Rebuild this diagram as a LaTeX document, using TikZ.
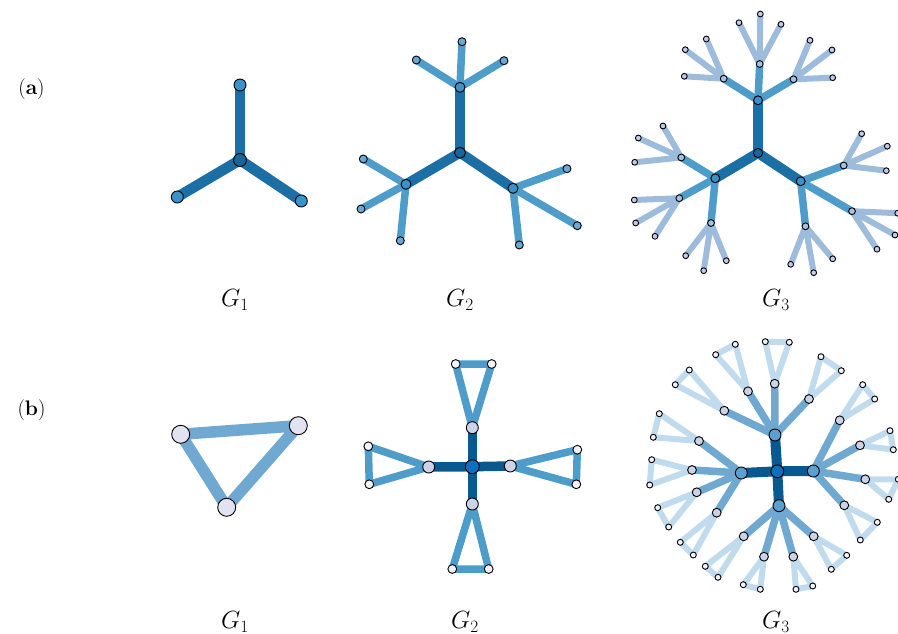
\documentclass[tikz,border=0pt]{standalone}
\pgfdeclarelayer{e1}
\pgfdeclarelayer{e2}
\pgfdeclarelayer{e3}
\pgfsetlayers{e1,e2,e3,main}

% palette
\definecolor{blueA}{HTML}{1B6FA5}
\definecolor{blueAn}{HTML}{17659B}
\definecolor{blueB}{HTML}{4E9CCA}
\definecolor{blueBn}{HTML}{3A93C8}
\definecolor{blueC}{HTML}{9DBCDC}
\definecolor{nodeL2}{HTML}{A6C2E2}
\definecolor{nodeLf}{HTML}{C2CCE6}
\definecolor{nodeG2lf}{HTML}{6AA9D5}
\definecolor{blueD}{HTML}{08598F}
\definecolor{blueDn}{HTML}{0D6FBD}
\definecolor{triB}{HTML}{6FA9D1}
\definecolor{triC}{HTML}{C0DBEE}
\definecolor{lavA}{HTML}{E1E3F0}
\definecolor{lavB}{HTML}{CDD3E7}
\definecolor{paleW}{HTML}{F2F2F8}
\definecolor{midB}{HTML}{5BA1D0}

\tikzset{
  vtx/.style={circle,draw=black,line width=0.9pt,inner sep=0pt},
  rad/.style={minimum size=2*#1 pt},
  edg/.style={line cap=round,line join=round},
  lab/.style={font=\fontsize{23}{27}\selectfont,anchor=base,inner sep=0pt},
  tag/.style={font=\fontsize{21}{25}\selectfont,inner sep=0pt},
}

\begin{document}
\begin{tikzpicture}[x=1pt,y=-1pt]
\useasboundingbox (0,0) rectangle (898,634);

% ---------------- row (a) ----------------
\node[tag] (tagA) at (31.5,89) {(\textbf{a})};

% G1: a three-pointed star
\node[vtx,rad=6.5,fill=blueAn] (a1c) at (240,160) {};
\foreach \i/\x/\y in {1/240/85, 2/177.3/197, 3/301.3/201}{
  \node[vtx,rad=6,fill=blueBn] (a1n\i) at (\x,\y) {};
  \begin{pgfonlayer}{e3}
    \draw[edg,line width=10.5pt,blueA] (a1c.center) -- (a1n\i.center);
  \end{pgfonlayer}
}
\node[lab] (ga1) at (235,306.5) {$G_1$};

% G2
\node[vtx,rad=5.5,fill=blueAn] (a2c) at (460,152.7) {};
\foreach \i/\x/\y in {1/460/87.3, 2/406/184.3, 3/513/188.3}{
  \node[vtx,rad=5,fill=blueBn] (a2m\i) at (\x,\y) {};
  \begin{pgfonlayer}{e3}
    \draw[edg,line width=10pt,blueA] (a2c.center) -- (a2m\i.center);
  \end{pgfonlayer}
}
\foreach \i/\p/\x/\y in {11/1/462/41.7, 12/1/416.3/60, 13/1/504/60.7,
                         21/2/363.3/159, 22/2/361/209, 23/2/400.3/240.7,
                         31/3/567/168.7, 32/3/577.3/225.7, 33/3/519.3/245}{
  \node[vtx,rad=4,fill=nodeG2lf] (a2l\i) at (\x,\y) {};
  \begin{pgfonlayer}{e2}
    \draw[edg,line width=7.5pt,blueB] (a2m\p.center) -- (a2l\i.center);
  \end{pgfonlayer}
}
\node[lab] (ga2) at (460,306.5) {$G_2$};

% G3
\node[vtx,rad=4.6,fill=blueAn] (a3c) at (758,153) {};
\foreach \i/\x/\y in {1/758/100.3, 2/715.3/178.3, 3/800.7/181.3}{
  \node[vtx,rad=4.4,fill=blueBn] (a3m\i) at (\x,\y) {};
  \begin{pgfonlayer}{e3}
    \draw[edg,line width=10pt,blueA] (a3c.center) -- (a3m\i.center);
  \end{pgfonlayer}
}
\foreach \i/\p/\kx/\ky/\ax/\ay/\bx/\by/\cx/\cy in {
  11/1/759.7/64/760.3/14/739/22.7/781/24.3,
  12/1/723.7/78.7/706.3/39/685.3/49.7/684.3/76.3,
  13/1/793.5/79.3/810/40.3/832/50/832.7/77.7,
  21/2/681.3/157.5/663/126/638.3/138/634.7/162.3,
  22/2/679.3/198.2/634.3/200/635.7/223/655/236.3,
  23/2/711/223/685.7/255.7/703.7/270.7/726.3/260.7,
  31/3/843.7/165.5/861.7/133.7/887.3/146.2/886.3/170.7,
  32/3/852/211.2/897.7/213.2/895/235/877/249.2,
  33/3/805.5/226.3/790.7/264.3/813.7/272.7/832.7/258.8}{
  \node[vtx,rad=3.4,fill=nodeL2] (a3k\i) at (\kx,\ky) {};
  \node[vtx,rad=2.9,fill=nodeLf] (a3k\i-a) at (\ax,\ay) {};
  \node[vtx,rad=2.9,fill=nodeLf] (a3k\i-b) at (\bx,\by) {};
  \node[vtx,rad=2.9,fill=nodeLf] (a3k\i-c) at (\cx,\cy) {};
  \begin{pgfonlayer}{e1}
    \draw[edg,line width=6pt,blueC] (a3k\i.center) -- (a3k\i-a.center)
                                    (a3k\i.center) -- (a3k\i-b.center)
                                    (a3k\i.center) -- (a3k\i-c.center);
  \end{pgfonlayer}
  \begin{pgfonlayer}{e2}
    \draw[edg,line width=7.5pt,blueB] (a3m\p.center) -- (a3k\i.center);
  \end{pgfonlayer}
}
\node[lab] (ga3) at (776,306.5) {$G_3$};

% ---------------- row (b) ----------------
\node[tag] (tagB) at (31.5,410) {(\textbf{b})};

% G1: a triangle
\node[vtx,rad=9,fill=lavA] (b1a) at (180.7,434.3) {};
\node[vtx,rad=9,fill=lavA] (b1b) at (298.3,425.7) {};
\node[vtx,rad=9,fill=lavA] (b1c) at (226.7,507.3) {};
\begin{pgfonlayer}{e1}
  \draw[edg,line width=11.5pt,triB] (b1a.center) -- (b1b.center) -- (b1c.center) -- cycle;
\end{pgfonlayer}
\node[lab] (gb1) at (235,628.5) {$G_1$};

% G2: a cross with a triangle on every arm
\node[vtx,rad=7,fill=blueDn] (b2c) at (472.3,466.7) {};
\foreach \i/\x/\y/\ax/\ay/\bx/\by in {
  1/472.3/427.7/455.7/364/491.7/364,
  2/510.3/466/577.3/449.7/576.3/484.3,
  3/472.3/504/452.3/569/488.7/569,
  4/428.7/467/368.3/446.3/369.3/484.3}{
  \node[vtx,rad=6,fill=lavB] (b2m\i) at (\x,\y) {};
  \node[vtx,rad=4.4,fill=paleW] (b2m\i-a) at (\ax,\ay) {};
  \node[vtx,rad=4.4,fill=paleW] (b2m\i-b) at (\bx,\by) {};
  \begin{pgfonlayer}{e1}
    \draw[edg,line width=7.5pt,blueB] (b2m\i.center) -- (b2m\i-a.center) -- (b2m\i-b.center) -- cycle;
  \end{pgfonlayer}
  \begin{pgfonlayer}{e3}
    \draw[edg,line width=9.5pt,blueD] (b2c.center) -- (b2m\i.center);
  \end{pgfonlayer}
}
\node[lab] (gb2) at (465,628.5) {$G_2$};

% G3
\node[vtx,rad=6.4,fill=blueDn] (b3c) at (777.3,471.3) {};
\foreach \i/\x/\y in {1/775/435, 2/813.3/471, 3/779/505.7, 4/741.3/473}{
  \node[vtx,rad=6,fill=midB] (b3m\i) at (\x,\y) {};
  \begin{pgfonlayer}{e3}
    \draw[edg,line width=10pt,blueD] (b3c.center) -- (b3m\i.center);
  \end{pgfonlayer}
}
\foreach \i/\p/\kx/\ky/\ax/\ay/\bx/\by in {
  11/1/724.3/410.7/675.3/384.7/689.3/370,
  12/1/748/391.3/715.7/354.7/735.3/344.3,
  13/1/774.7/383.7/765.3/341.7/789.3/342.3,
  14/1/809/399/821/356.7/841.3/370.7,
  21/2/839.7/420.3/862.7/384.7/874.7/399,
  22/2/860/445.3/890/430.7/893.3/449.7,
  23/2/865.3/479.3/898.3/479.3/888.7/499.3,
  24/2/844.3/505.3/877.3/522.3/860.3/540,
  31/3/813.7/536.3/846.7/555.3/831.3/569.3,
  32/3/793.3/556.7/812.7/586/796/589.3,
  33/3/764/556.7/760.3/589.3/743.3/584.7,
  34/3/743.7/536.3/718/577.3/705.3/566.3,
  41/4/716.7/512.7/693.3/555/680.3/542.3,
  42/4/696.7/492.3/668.7/527/657.7/507.7,
  43/4/692/470/649.7/485/651.7/459.7,
  44/4/699/441/653.3/437.3/659.3/413.7}{
  \node[vtx,rad=4.4,fill=lavB] (b3k\i) at (\kx,\ky) {};
  \node[vtx,rad=3,fill=paleW] (b3k\i-a) at (\ax,\ay) {};
  \node[vtx,rad=3,fill=paleW] (b3k\i-b) at (\bx,\by) {};
  \begin{pgfonlayer}{e1}
    \draw[edg,line width=6pt,triC] (b3k\i.center) -- (b3k\i-a.center) -- (b3k\i-b.center) -- cycle;
  \end{pgfonlayer}
  \begin{pgfonlayer}{e2}
    \draw[edg,line width=7.5pt,triB] (b3m\p.center) -- (b3k\i.center);
  \end{pgfonlayer}
}
\node[lab] (gb3) at (776,628.5) {$G_3$};
\end{tikzpicture}
\end{document}
